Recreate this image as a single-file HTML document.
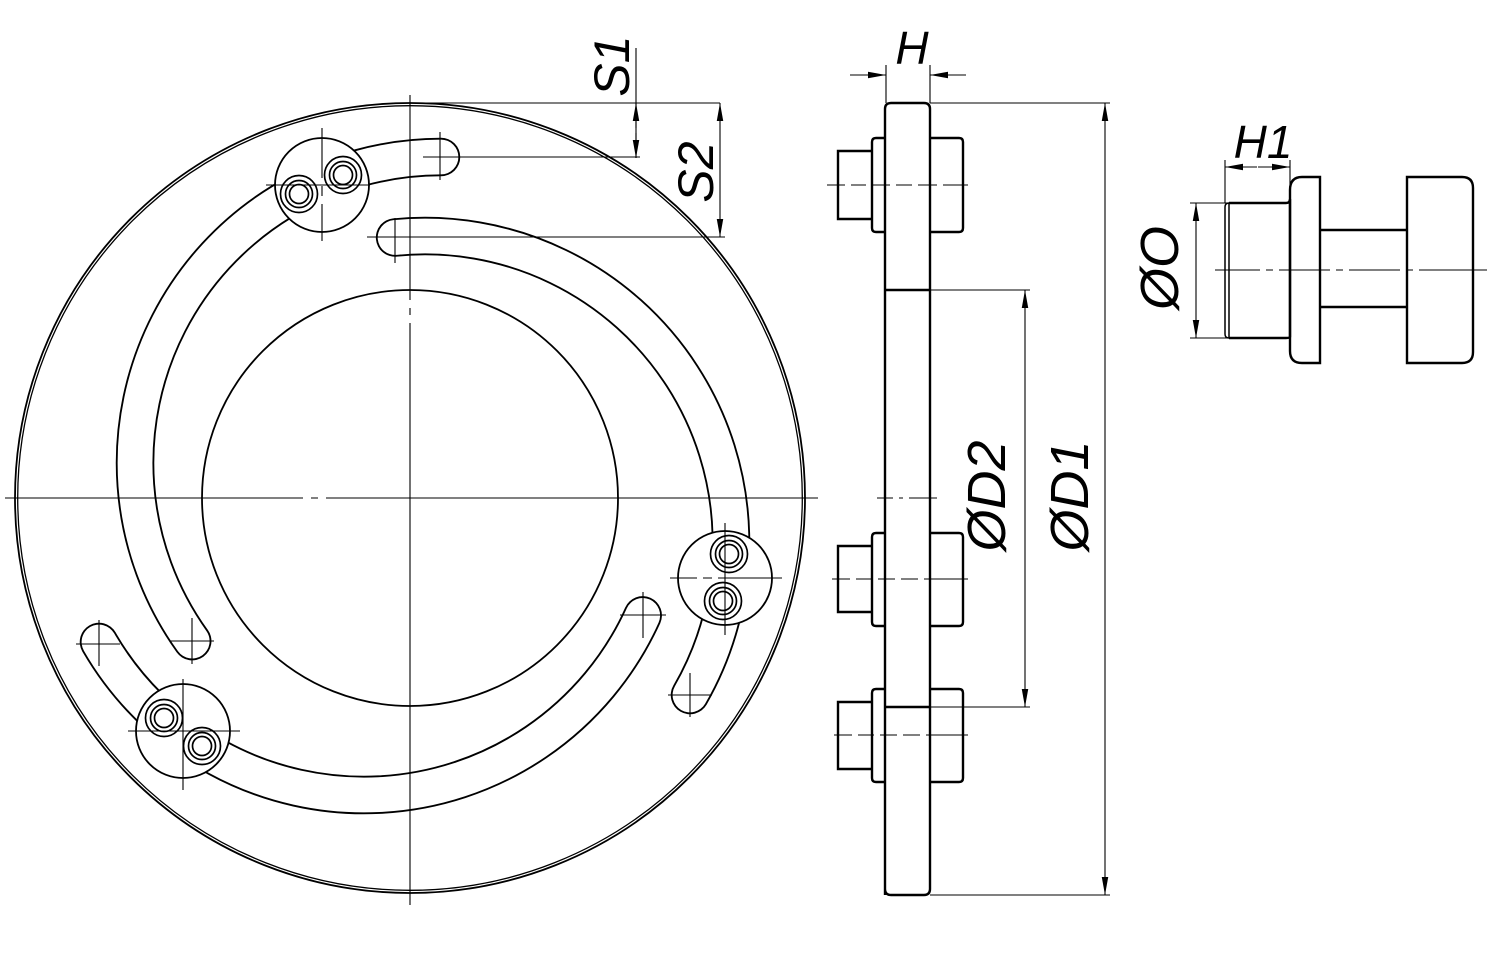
<!DOCTYPE html>
<html><head><meta charset="utf-8"><style>
html,body{margin:0;padding:0;background:#fff;}
svg{display:block;}
text{font-family:"Liberation Sans",sans-serif;font-style:italic;fill:#000;}
</style></head><body>
<svg width="1499" height="965" viewBox="0 0 1499 965" xmlns="http://www.w3.org/2000/svg">
<defs>
<marker id="ar" viewBox="0 0 10 10" refX="10" refY="5" markerWidth="18" markerHeight="18" markerUnits="userSpaceOnUse" orient="auto-start-reverse">
<path d="M0,3.2 L10,5 L0,6.8 Z" fill="#000"/>
</marker>
</defs>
<g fill="none" stroke="#000">
<circle cx="410" cy="498" r="395" stroke-width="1.8"/>
<circle cx="410" cy="498" r="392.3" stroke-width="1.3"/>
<circle cx="410" cy="498" r="208" stroke-width="1.8"/>
<g stroke-linecap="round">
<path d="M395.1,237.5 A306,306 0 0 1 690,695" stroke-width="38.5"/>
<path d="M395.1,237.5 A306,306 0 0 1 690,695" stroke="#fff" stroke-width="34.8"/>
<path d="M642.7,615.4 A306,306 0 0 1 99,642" stroke-width="38.5"/>
<path d="M642.7,615.4 A306,306 0 0 1 99,642" stroke="#fff" stroke-width="34.8"/>
<path d="M192.2,641.1 A306,306 0 0 1 441,157" stroke-width="38.5"/>
<path d="M192.2,641.1 A306,306 0 0 1 441,157" stroke="#fff" stroke-width="34.8"/>
</g>
<g fill="#fff" stroke-width="1.8">
<circle cx="322" cy="185" r="47"/>
<circle cx="725" cy="578" r="47"/>
<circle cx="183" cy="731" r="47"/>
</g>
<g stroke-width="1.7" fill="#fff">
<circle cx="343" cy="175" r="18.5"/><circle cx="343" cy="175" r="13.5"/><circle cx="343" cy="175" r="9.5"/>
<circle cx="299" cy="194" r="18.5"/><circle cx="299" cy="194" r="13.5"/><circle cx="299" cy="194" r="9.5"/>
<circle cx="729" cy="554" r="18.5"/><circle cx="729" cy="554" r="13.5"/><circle cx="729" cy="554" r="9.5"/>
<circle cx="723" cy="601" r="18.5"/><circle cx="723" cy="601" r="13.5"/><circle cx="723" cy="601" r="9.5"/>
<circle cx="164" cy="718" r="18.5"/><circle cx="164" cy="718" r="13.5"/><circle cx="164" cy="718" r="9.5"/>
<circle cx="202" cy="746" r="18.5"/><circle cx="202" cy="746" r="13.5"/><circle cx="202" cy="746" r="9.5"/>
</g>
<g stroke-width="1.1">
<path d="M5,498 H303 M311,498 H318 M326,498 H818"/>
<path d="M410,95 V300 M410,308 V315 M410,323 V905"/>
<path d="M266,185 H370 M322,128 V178 M322,186 V196 M322,204 V241"/>
<path d="M670,578 H697 M703,578 H712 M718,578 H782 M725,523 V635"/>
<path d="M128,731 H240 M183,679 V790"/>
<path d="M367,237 H725 M395,218 V263"/>
<path d="M423,157 H640 M440,132 V180"/>
<path d="M668,695 H712 M690,673 V717"/>
<path d="M620,615 H666 M643,592 V638"/>
<path d="M76,644 H120 M99,620 V666"/>
<path d="M170,641 H214 M192,618 V664"/>
<path d="M410,103 H720"/>
<path d="M636,48 V158"/>
<path d="M636,128 V103" marker-end="url(#ar)"/>
<path d="M636,133 V158" marker-end="url(#ar)"/>
<path d="M720,170 V103" marker-end="url(#ar)"/>
<path d="M720,170 V237" marker-end="url(#ar)"/>
</g>
<g stroke-width="2.4">
<path d="M885,895 V109 Q885,103 891,103 H924 Q930,103 930,109 V889 Q930,895 924,895 H891 Q885,895 885,889 Z"/>
<path d="M885,290 H930 M885,707 H930"/>
<path d="M885,138 H876 Q872,138 872,142 V228 Q872,232 876,232 H885"/>
<path d="M930,138 H959 Q963,138 963,142 V228 Q963,232 959,232 H930"/>
<path d="M872,151 H838 V219 H872"/>
<path d="M885,533 H876 Q872,533 872,537 V622 Q872,626 876,626 H885"/>
<path d="M930,533 H959 Q963,533 963,537 V622 Q963,626 959,626 H930"/>
<path d="M872,546 H838 V612 H872"/>
<path d="M885,689 H876 Q872,689 872,693 V778 Q872,782 876,782 H885"/>
<path d="M930,689 H959 Q963,689 963,693 V778 Q963,782 959,782 H930"/>
<path d="M872,702 H838 V769 H872"/>
</g>
<g stroke-width="1.1">
<path d="M827,185 H845 M851,185 H866 M872,185 H890 M896,185 H912 M918,185 H937 M943,185 H968" />
<path d="M832,579 H850 M856,579 H872 M878,579 H895 M901,579 H918 M924,579 H968"/>
<path d="M834,735 H852 M858,735 H874 M880,735 H897 M903,735 H920 M926,735 H968"/>
<path d="M877,498 H893 M899,498 H903 M909,498 H937"/>
<path d="M886,65 V103 M930,65 V103"/>
<path d="M850,75 H886" marker-end="url(#ar)"/>
<path d="M966,75 H930" marker-end="url(#ar)"/>
<path d="M930,103 H1110 M930,895 H1110 M930,290 H1030 M930,707 H1030"/>
<path d="M1105,500 V103" marker-end="url(#ar)"/>
<path d="M1105,500 V895" marker-end="url(#ar)"/>
<path d="M1025,500 V290" marker-end="url(#ar)"/>
<path d="M1025,500 V707" marker-end="url(#ar)"/>
</g>
<g stroke-width="2.4">
<path d="M1229,203 H1286 Q1290,203 1290,199 V337 Q1290,338 1286,338 H1229"/>
<path d="M1229,203 Q1225,203 1225,207 V334 Q1225,338 1229,338 Z" stroke-width="1.5"/>
<path d="M1290,199 V190 Q1290,177 1302,177 H1320 V363 H1302 Q1290,363 1290,351 Z"/>
<path d="M1320,230 H1407 M1320,307 H1407"/>
<path d="M1407,177 H1462 Q1473,177 1473,188 V352 Q1473,363 1462,363 H1407 Z"/>
</g>
<g stroke-width="1.1">
<path d="M1215,270 H1260 M1266,270 H1273 M1279,270 H1330 M1336,270 H1343 M1349,270 H1400 M1406,270 H1413 M1419,270 H1487"/>
<path d="M1225,160 V203 M1290,160 V185"/>
<path d="M1257,167 H1225" marker-end="url(#ar)"/>
<path d="M1258,167 H1290" marker-end="url(#ar)"/>
<path d="M1190,203 H1228 M1190,338 H1228"/>
<path d="M1196,270 V203" marker-end="url(#ar)"/>
<path d="M1196,270 V338" marker-end="url(#ar)"/>
</g>
</g>
<text x="912" y="64" font-size="46" text-anchor="middle">H</text>
<text x="1263" y="158" font-size="46" text-anchor="middle">H1</text>
<text transform="translate(629,66) rotate(-90)" font-size="50" text-anchor="middle">S1</text>
<text transform="translate(713,172) rotate(-90)" font-size="50" text-anchor="middle">S2</text>
<text transform="translate(1005,496) rotate(-90)" font-size="54" text-anchor="middle">ØD2</text>
<text transform="translate(1088,496) rotate(-90)" font-size="54" text-anchor="middle">ØD1</text>
<text transform="translate(1178,268) rotate(-90)" font-size="54" text-anchor="middle">ØO</text>
</svg>
</body></html>
